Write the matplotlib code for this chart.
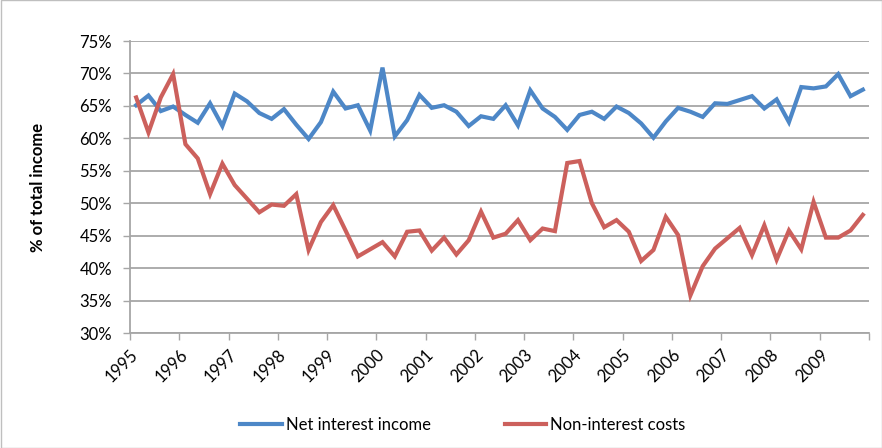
import numpy as np
import matplotlib
matplotlib.use("Agg")
import matplotlib.pyplot as plt
from matplotlib.patches import Rectangle

plt.rcParams['font.family'] = ['Lato', 'DejaVu Sans']

# quarterly ratios, 1995Q1 - 2009Q4 (% of total income)
years = list(range(1995, 2010))
net_interest = [65.1, 66.6, 64.2, 64.9, 63.6, 62.4, 65.4, 61.9, 66.9, 65.7,
                63.9, 63.0, 64.5, 62.1, 59.9, 62.5, 67.2, 64.6, 65.1, 61.2,
                70.9, 60.3, 62.8, 66.7, 64.7, 65.1, 64.1, 61.9, 63.4, 63.0,
                65.1, 62.0, 67.4, 64.6, 63.3, 61.3, 63.6, 64.1, 63.0, 64.9,
                63.9, 62.3, 60.1, 62.6, 64.7, 64.1, 63.3, 65.4, 65.3, 65.9,
                66.5, 64.6, 66.0, 62.5, 67.9, 67.7, 68.0, 69.9, 66.5, 67.5]
non_interest = [66.3, 60.9, 66.3, 69.9, 59.1, 56.9, 51.4, 56.1, 52.8, 50.7,
                48.6, 49.8, 49.6, 51.4, 42.8, 47.1, 49.7, 45.8, 41.8, 42.9,
                44.0, 41.8, 45.6, 45.8, 42.7, 44.7, 42.1, 44.3, 48.7, 44.7,
                45.3, 47.4, 44.3, 46.1, 45.7, 56.2, 56.5, 50.0, 46.3, 47.4,
                45.6, 41.1, 42.8, 47.9, 45.1, 35.8, 40.3, 43.0, 44.6, 46.2,
                42.0, 46.6, 41.3, 45.8, 42.9, 50.2, 44.7, 44.7, 45.8, 48.2]

blue = '#4d87c7'
red = '#cc605c'
grid_c = '#a6a6a6'

fig = plt.figure(figsize=(8.82, 4.48), dpi=100)
ax = fig.add_axes([130 / 882, 1 - 333 / 448, 739 / 882, 292 / 448])

x = np.arange(len(net_interest)) + 0.5
ax.plot(x, net_interest, color=blue, lw=3, solid_joinstyle='miter', label='Net interest income')
ax.plot(x, non_interest, color=red, lw=3, solid_joinstyle='miter', label='Non-interest costs')

ax.set_xlim(0, 60)
ax.set_ylim(30, 75)
ax.set_yticks(np.arange(30, 76, 5))
ax.set_yticklabels(['%d%%' % v for v in range(30, 76, 5)], fontsize=12)
ax.set_xticks(np.arange(0, 61, 4))
ax.set_xticklabels([str(y) for y in years] + [''], rotation=45, ha='right',
                   rotation_mode='anchor', fontsize=12)
ax.tick_params(axis='x', length=5, width=1, color=grid_c, pad=5)
ax.tick_params(axis='y', length=5, width=1, color=grid_c, pad=8)

ax.yaxis.grid(True, color=grid_c, lw=1.3)
ax.set_axisbelow(True)
for s in ['top', 'right']:
    ax.spines[s].set_visible(False)
for s in ['left', 'bottom']:
    ax.spines[s].set_color(grid_c)
    ax.spines[s].set_linewidth(1.3)

ax.set_ylabel('% of total income', fontsize=12, fontweight='bold', labelpad=24)

fig.legend(loc='lower center', bbox_to_anchor=(0.525, 0.0), ncol=2, frameon=False,
           fontsize=12, handlelength=2.5, columnspacing=4.4, handletextpad=0.25)

# outer chart border
fig.patches.append(Rectangle((0.5 / 882, 0.5 / 448), 881 / 882, 447 / 448, transform=fig.transFigure,
                             fill=False, edgecolor='#bfbfbf', lw=1))

fig.savefig('out.png', dpi=100)
